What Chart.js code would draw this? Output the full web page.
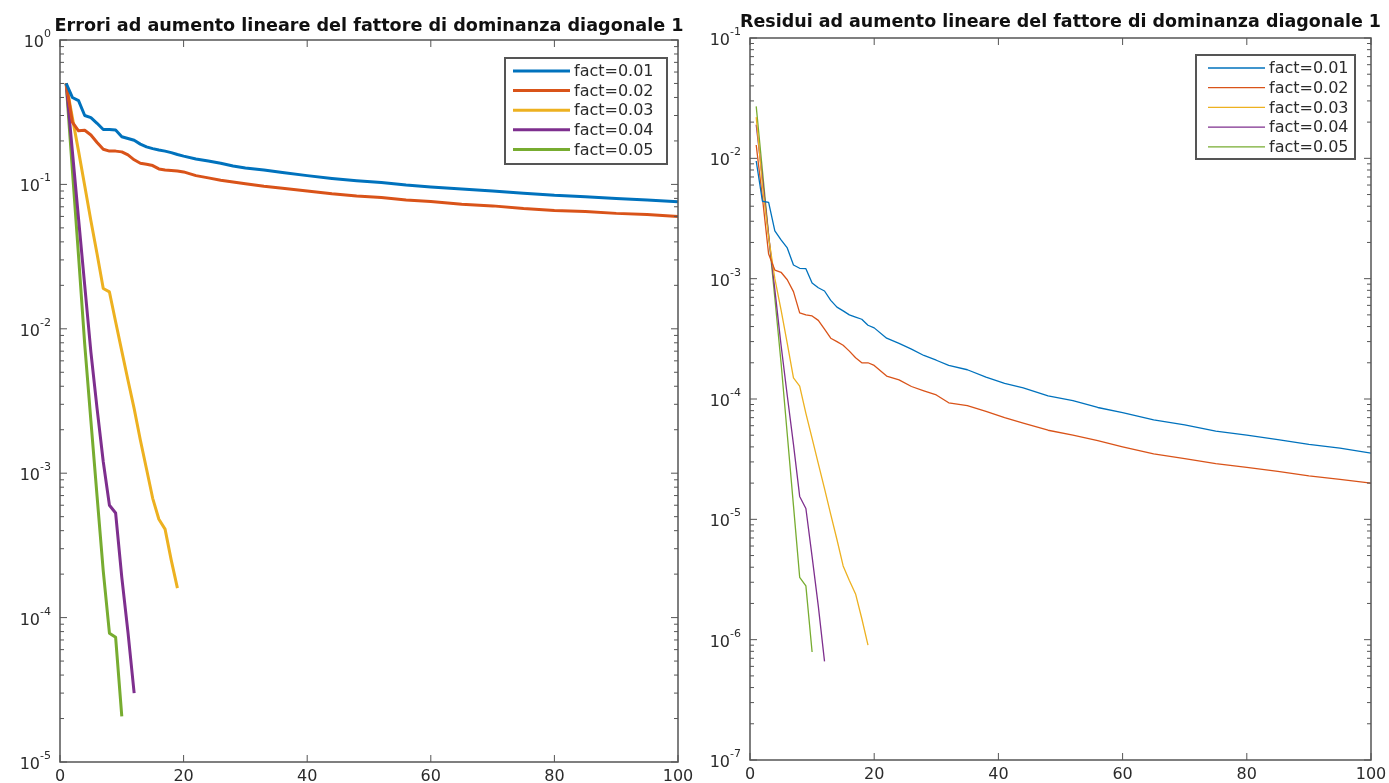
<!DOCTYPE html>
<html>
<head>
<meta charset="utf-8">
<script src="https://cdn.jsdelivr.net/npm/chart.js@4.4.1/dist/chart.umd.min.js"></script>
<style>
  html, body { margin: 0; padding: 0; background: #fff; width: 1389px; height: 783px; overflow: hidden; }
  canvas { position: absolute; top: 0; }
  #errChart { left: 0; }
  #resChart { left: 695px; }
</style>
</head>
<body>
<canvas id="errChart" width="695" height="783"></canvas>
<canvas id="resChart" width="694" height="783"></canvas>
<script>
// ---------- data ----------
const legendLabels = ['fact=0.01', 'fact=0.02', 'fact=0.03', 'fact=0.04', 'fact=0.05'];
const xTicks = [0, 20, 40, 60, 80, 100];
const errExps = [0, -1, -2, -3, -4, -5];
const resExps = [-1, -2, -3, -4, -5, -6, -7];

// iterations
const errIterLong = [1,2,3,4,5,6,7,8,9,10,11,12,13,14,15,16,17,18,19,20,22,24,26,28,30,33,36,40,44,48,52,56,60,65,70,75,80,85,90,95,100];
const resIterLong = [1,2,3,4,5,6,7,8,9,10,11,12,13,14,15,16,17,18,19,20,22,24,26,28,30,32,35,38,41,44,48,52,56,60,65,70,75,80,85,90,95,100];
const iter19 = [1,2,3,4,5,6,7,8,9,10,11,12,13,14,15,16,17,18,19];
const iter12 = [1,2,3,4,5,6,7,8,9,10,11,12];
const iter10 = [1,2,3,4,5,6,7,8,9,10];

// errors (left)
const err01 = [0.50,0.40,0.38,0.30,0.29,0.265,0.24,0.24,0.238,0.214,0.208,0.202,0.19,0.182,0.177,0.173,0.170,0.166,0.161,0.157,
               0.150,0.145,0.140,0.134,0.130,0.126,0.121,0.115,0.110,0.106,0.103,0.099,0.096,0.093,0.090,0.087,0.084,0.082,0.080,0.078,0.0757];
const err02 = [0.50,0.27,0.235,0.237,0.22,0.195,0.175,0.170,0.170,0.168,0.160,0.148,0.140,0.138,0.135,0.128,0.126,0.125,0.124,0.122,
               0.115,0.111,0.107,0.104,0.101,0.097,0.094,0.090,0.086,0.083,0.081,0.078,0.076,0.073,0.071,0.068,0.066,0.065,0.063,0.062,0.060];
const err03 = [0.50,0.29,0.17,0.098,0.056,0.033,0.019,0.018,0.0112,0.0070,0.0044,0.0028,0.0017,0.00107,0.00067,0.00048,0.00041,0.00025,0.00016];
const err04 = [0.50,0.17,0.058,0.020,0.0069,0.0028,0.0012,0.00060,0.00053,0.00019,0.000079,0.000030];
const err05 = [0.50,0.126,0.032,0.0078,0.0023,0.00069,0.00021,0.000078,0.000073,0.0000207];

// residuals (right)
const res01 = [0.0095,0.0044,0.0043,0.0025,0.0021,0.0018,0.0013,0.00122,0.00121,0.00092,0.00084,0.00079,0.00066,0.00058,0.00054,0.00050,0.00048,0.00046,0.00041,0.00039,
               0.00032,0.00029,0.00026,0.00023,0.00021,0.00019,0.000175,0.000152,0.000135,0.000124,0.000106,0.000097,0.000085,0.000077,0.000067,0.000061,0.000054,0.000050,0.000046,0.000042,0.000039,0.0000355];
const res02 = [0.0129,0.0047,0.0016,0.00118,0.00113,0.00098,0.00078,0.00052,0.00050,0.00049,0.00045,0.00038,0.00032,0.00030,0.00028,0.00025,0.00022,0.00020,0.000200,0.000190,
               0.000155,0.000144,0.000127,0.000117,0.000108,0.000093,0.000088,0.000079,0.000070,0.000063,0.000055,0.000050,0.000045,0.000040,0.000035,0.000032,0.000029,0.000027,0.000025,0.000023,0.0000215,0.0000200];
const res03 = [0.022,0.0060,0.0022,0.0010,0.00055,0.00029,0.000150,0.000128,0.000076,0.000047,0.000029,0.000018,0.000011,0.0000068,0.0000041,0.0000031,0.0000024,0.0000015,0.0000009];
const res04 = [0.019,0.0068,0.0023,0.00081,0.00028,0.000107,0.000042,0.0000155,0.0000123,0.0000049,0.0000019,0.00000066];
const res05 = [0.027,0.0079,0.0023,0.00069,0.00020,0.000051,0.000013,0.0000033,0.0000028,0.00000079];

// ---------- style ----------
const lineColors = ['#0072BD', '#D95319', '#EDB120', '#7E2F8E', '#77AC30'];
const AXIS = '#555555';
const TEXT = '#2b2b2b';

function pts(xs, ys) {
  return xs.map((x, i) => ({ x: x, y: ys[i] }));
}

// axes box, inward ticks, 10^n labels, title and legend like the original figure
const matlabAxes = {
  id: 'matlabAxes',
  afterDraw(chart, args, o) {
    const ctx = chart.ctx, a = chart.chartArea;
    const xs = chart.scales.x, ys = chart.scales.y;
    ctx.save();
    ctx.strokeStyle = AXIS;
    ctx.lineWidth = 1.5;
    ctx.strokeRect(a.left, a.top, a.right - a.left, a.bottom - a.top);

    // x ticks
    ctx.fillStyle = TEXT;
    ctx.font = '16px "DejaVu Sans"';
    ctx.textAlign = 'center';
    ctx.textBaseline = 'top';
    ctx.lineWidth = 1;
    xTicks.forEach(v => {
      const px = xs.getPixelForValue(v);
      ctx.beginPath();
      ctx.moveTo(px, a.bottom); ctx.lineTo(px, a.bottom - 7);
      ctx.moveTo(px, a.top); ctx.lineTo(px, a.top + 7);
      ctx.stroke();
      ctx.fillText(String(v), px, a.bottom + 7);
    });

    // y major ticks + labels
    const minE = Math.min(...o.exps), maxE = Math.max(...o.exps);
    o.exps.forEach(e => {
      const py = ys.getPixelForValue(Math.pow(10, e));
      ctx.beginPath();
      ctx.moveTo(a.left, py); ctx.lineTo(a.left + 7, py);
      ctx.moveTo(a.right, py); ctx.lineTo(a.right - 7, py);
      ctx.stroke();
      const right = a.left - 9;
      ctx.textBaseline = 'alphabetic';
      ctx.font = '11px "DejaVu Sans"';
      const ex = String(e);
      const ew = ctx.measureText(ex).width;
      ctx.textAlign = 'left';
      ctx.fillText(ex, right - ew, py - 3);
      ctx.font = '16px "DejaVu Sans"';
      ctx.textAlign = 'right';
      ctx.fillText('10', right - ew, py + 7);
    });
    // y minor ticks
    for (let e = minE; e < maxE; e++) {
      for (let m = 2; m <= 9; m++) {
        const py = ys.getPixelForValue(m * Math.pow(10, e));
        ctx.beginPath();
        ctx.moveTo(a.left, py); ctx.lineTo(a.left + 4, py);
        ctx.moveTo(a.right, py); ctx.lineTo(a.right - 4, py);
        ctx.stroke();
      }
    }

    // title, fitted to the width it has in the picture
    ctx.font = 'bold 17px "DejaVu Sans"';
    ctx.textAlign = 'center';
    ctx.textBaseline = 'alphabetic';
    const tw = ctx.measureText(o.title).width;
    ctx.save();
    ctx.translate((a.left + a.right) / 2, o.titleY);
    ctx.scale(o.titleW / tw, 1);
    ctx.fillStyle = '#111';
    ctx.fillText(o.title, 0, 0);
    ctx.restore();

    // legend
    const L = o.legend;
    ctx.fillStyle = '#fff';
    ctx.fillRect(L.x, L.y, L.w, L.h);
    ctx.strokeStyle = AXIS;
    ctx.lineWidth = 2;
    ctx.strokeRect(L.x, L.y, L.w, L.h);
    ctx.font = '16px "DejaVu Sans"';
    ctx.textAlign = 'left';
    ctx.textBaseline = 'middle';
    chart.data.datasets.forEach((ds, i) => {
      const ly = L.y + L.first + i * L.row;
      ctx.strokeStyle = ds.borderColor;
      ctx.lineWidth = ds.borderWidth;
      ctx.beginPath();
      ctx.moveTo(L.x + L.pad, ly);
      ctx.lineTo(L.x + L.pad + L.len, ly);
      ctx.stroke();
      ctx.fillStyle = TEXT;
      ctx.fillText(ds.label, L.x + L.pad + L.len + 4, ly + 1);
    });
    ctx.restore();
  }
};

function makePanel(id, series, iters, width, yMin, yMax, padding, opts) {
  return new Chart(document.getElementById(id), {
    type: 'line',
    data: {
      datasets: series.map((s, i) => ({
        label: legendLabels[i],
        data: pts(iters[i], s),
        borderColor: lineColors[i],
        borderWidth: width,
        pointRadius: 0,
        tension: 0,
        fill: false,
        borderJoinStyle: 'round'
      }))
    },
    options: {
      responsive: false,
      animation: false,
      events: [],
      layout: { padding: padding },
      scales: {
        x: { type: 'linear', min: 0, max: 100, display: false },
        y: { type: 'logarithmic', min: yMin, max: yMax, display: false }
      },
      plugins: {
        legend: { display: false },
        tooltip: { enabled: false },
        matlabAxes: opts
      }
    },
    plugins: [matlabAxes]
  });
}

makePanel('errChart',
  [err01, err02, err03, err04, err05],
  [errIterLong, errIterLong, iter19, iter12, iter10],
  3, 1e-5, 1,
  { left: 60, right: 17, top: 40, bottom: 21 },
  {
    exps: errExps,
    title: 'Errori ad aumento lineare del fattore di dominanza diagonale 1',
    titleY: 31, titleW: 629,
    legend: { x: 505, y: 58, w: 162, h: 106, first: 13, row: 19.6, pad: 8, len: 57 }
  });

makePanel('resChart',
  [res01, res02, res03, res04, res05],
  [resIterLong, resIterLong, iter19, iter12, iter10],
  1.3, 1e-7, 1e-1,
  { left: 55, right: 18, top: 38, bottom: 23 },
  {
    exps: resExps,
    title: 'Residui ad aumento lineare del fattore di dominanza diagonale 1',
    titleY: 27, titleW: 641,
    legend: { x: 501, y: 55, w: 159, h: 104, first: 13, row: 19.7, pad: 12, len: 57 }
  });
</script>
</body>
</html>
